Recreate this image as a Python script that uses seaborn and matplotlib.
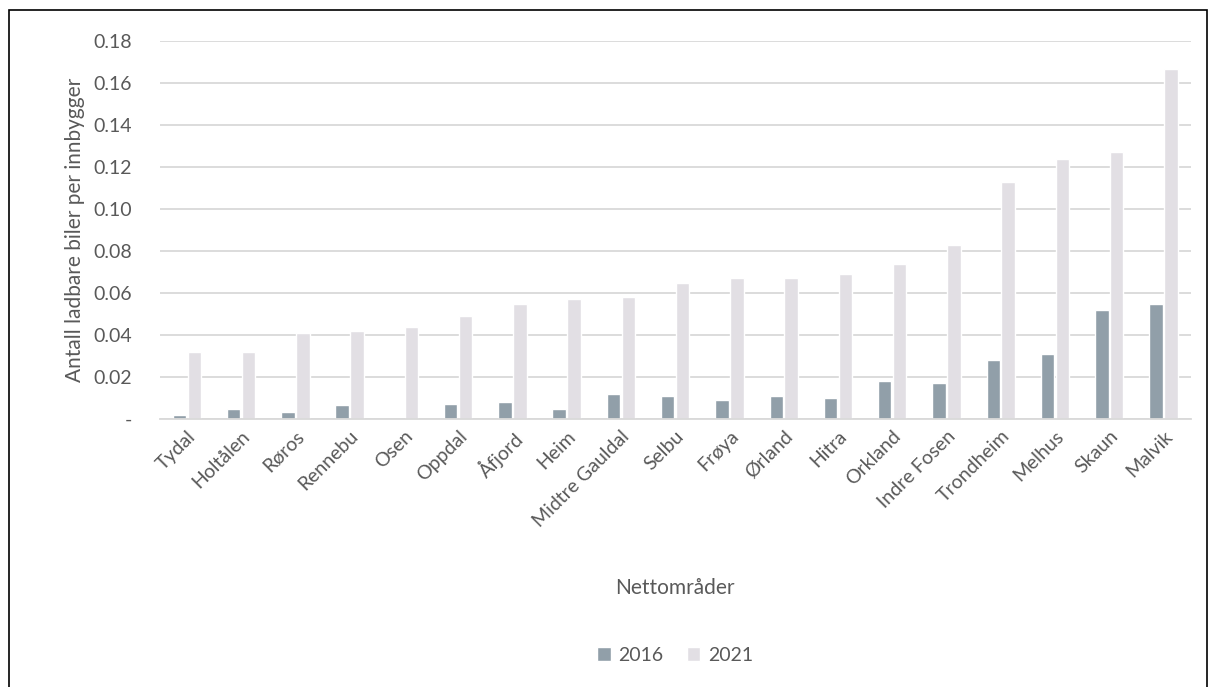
import matplotlib
matplotlib.use("Agg")
import matplotlib.pyplot as plt
import seaborn as sns
import pandas as pd
from matplotlib.patches import Rectangle
from matplotlib.ticker import FuncFormatter

categories = ["Tydal", "Holtålen", "Røros", "Rennebu", "Osen", "Oppdal", "Åfjord", "Heim",
              "Midtre Gauldal", "Selbu", "Frøya", "Ørland", "Hitra", "Orkland", "Indre Fosen",
              "Trondheim", "Melhus", "Skaun", "Malvik"]
values_2016 = [0.002, 0.005, 0.0035, 0.0065, 0.0, 0.007, 0.008, 0.005, 0.012, 0.011, 0.009,
               0.011, 0.010, 0.018, 0.017, 0.028, 0.031, 0.052, 0.055]
values_2021 = [0.032, 0.032, 0.041, 0.042, 0.044, 0.049, 0.055, 0.057, 0.058, 0.065, 0.067,
               0.067, 0.069, 0.074, 0.083, 0.113, 0.124, 0.127, 0.167]
years = ["2016", "2021"]

df = pd.DataFrame({
    "Nettområde": categories * 2,
    "År": [years[0]] * len(categories) + [years[1]] * len(categories),
    "Verdi": values_2016 + values_2021,
})

sns.set_style("white")
plt.rcParams["font.family"] = ["Lato", "DejaVu Sans"]
txt = "#595959"

fig = plt.figure(figsize=(12.1, 6.87), dpi=100)
ax = fig.add_axes([0.132, 0.39, 0.852, 0.55])
sns.barplot(data=df, x="Nettområde", y="Verdi", hue="År", order=categories, hue_order=years,
            palette=["#919FA9", "#E2DFE4"], width=0.55, gap=0.1, ax=ax, saturation=1)

ax.set_ylim(0, 0.18)
ax.set_yticks([i * 0.02 for i in range(10)])
ax.yaxis.set_major_formatter(FuncFormatter(lambda v, p: "-" if abs(v) < 1e-9 else f"{v:.2f}"))
ax.grid(axis="y", color="#D9D9D9", linewidth=1.3)
ax.set_axisbelow(True)
for s in ["top", "right", "left"]:
    ax.spines[s].set_visible(False)
ax.spines["bottom"].set_color("#D9D9D9")
ax.spines["bottom"].set_linewidth(1.3)
ax.tick_params(axis="both", length=0, colors=txt, labelsize=14)
ax.tick_params(axis="y", pad=20)
ax.tick_params(axis="x", pad=6)
plt.setp(ax.get_xticklabels(), rotation=45, ha="right", rotation_mode="anchor")
ax.set_xlim(-0.5, len(categories) - 0.5)
ax.set_xlabel("Nettområder", fontsize=15, color=txt)
ax.xaxis.set_label_coords(0.5, -0.42)
ax.set_ylabel("Antall ladbare biler per innbygger", fontsize=15, color=txt, labelpad=6)

leg = ax.legend(loc="center", bbox_to_anchor=(0.5, -0.625), ncol=2, frameon=False,
                fontsize=14, handlelength=0.7, handleheight=0.7, columnspacing=1.2,
                handletextpad=0.4)
for t in leg.get_texts():
    t.set_color(txt)

fig.patches.append(Rectangle((0.0075, -0.01), 0.99, 0.995, transform=fig.transFigure,
                             fill=False, edgecolor="black", linewidth=1.2))

fig.savefig("out.png", dpi=100)
